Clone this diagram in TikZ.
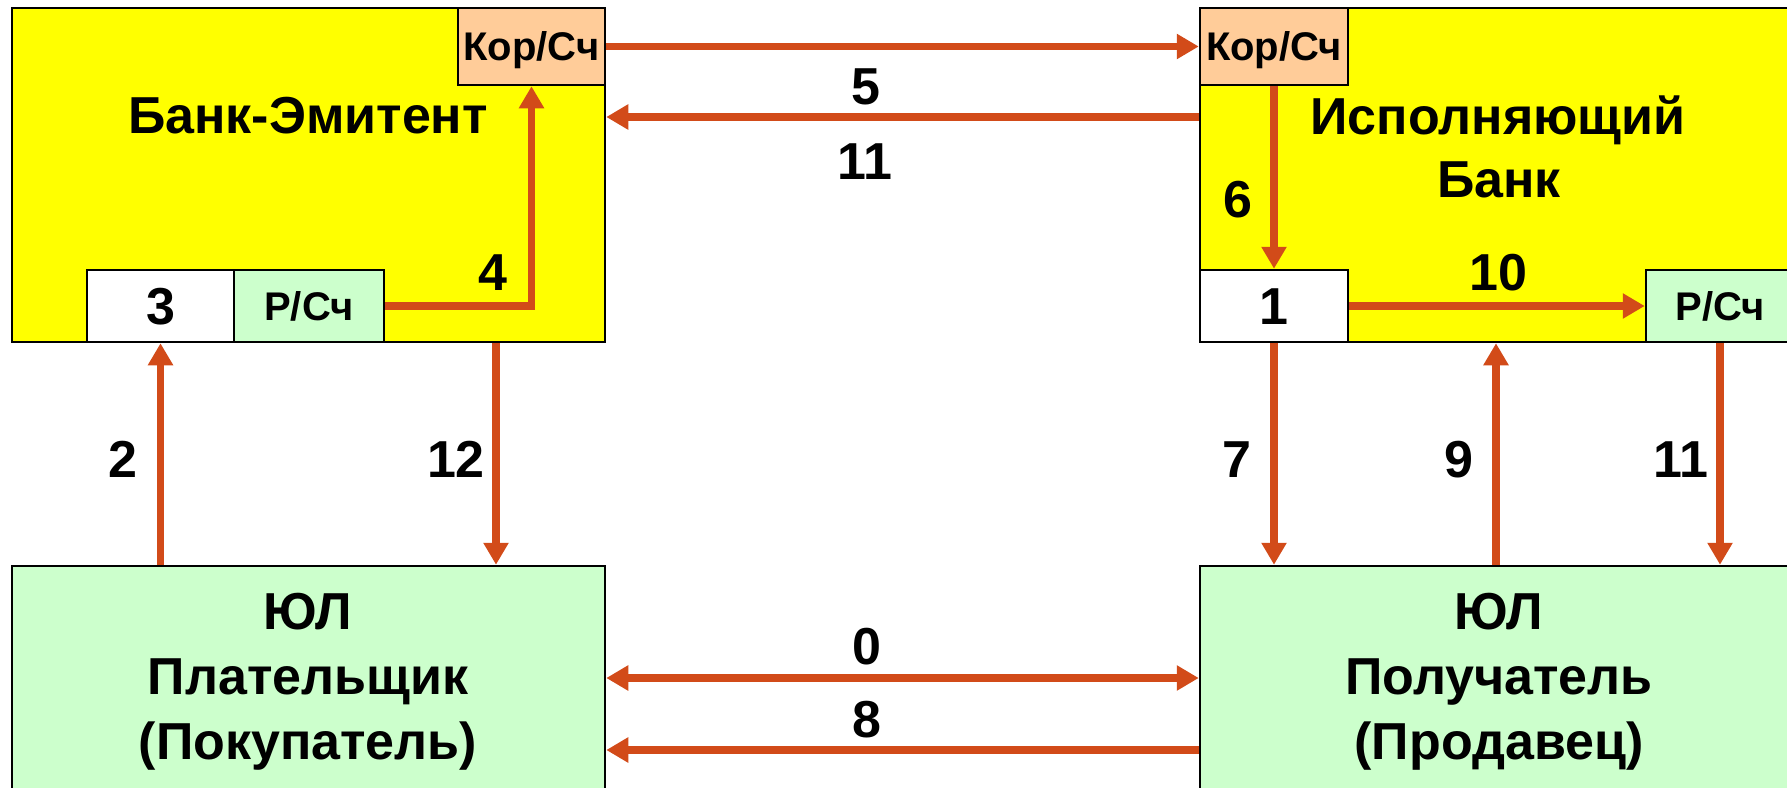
\documentclass[tikz,border=0pt]{standalone}
\usepackage{fontspec}
\setmainfont{Liberation Sans}
\usetikzlibrary{arrows.meta}
\definecolor{arrowc}{RGB}{210,75,25}
\definecolor{bankyellow}{RGB}{255,255,0}
\definecolor{lightgreen}{RGB}{204,255,204}
\definecolor{peach}{RGB}{255,204,153}
\begin{document}
\begin{tikzpicture}[x=1pt,y=-1pt,
  box/.style={draw=black, line width=2.5pt, inner sep=0pt, anchor=center},
  big/.style={font=\fontsize{52}{62}\selectfont\bfseries, text height=37pt, text depth=0pt, inner sep=0pt},
  small/.style={font=\fontsize{40}{48}\selectfont\bfseries, text height=28.6pt, text depth=0pt, inner sep=0pt},
  arr/.style={draw=arrowc, line width=7.5pt, -{Triangle[length=22pt,width=24pt]}},
  darr/.style={draw=arrowc, line width=7.5pt, {Triangle[length=22pt,width=24pt]}-{Triangle[length=22pt,width=24pt]}},
]
\useasboundingbox (0,0) rectangle (1787,787);
\clip (0,0) rectangle (1787,787);
\fill[white] (0,0) rectangle (1787,787);

% banks
\node[box, fill=bankyellow, minimum width=593pt, minimum height=334pt] (bankE) at (308.5,175) {};
\node[box, fill=bankyellow, minimum width=750pt, minimum height=334pt] (bankI) at (1575,175) {};
\node[box, fill=peach, minimum width=147pt, minimum height=77pt, small] (korE) at (531.5,46.5) {Кор/Сч};
\node[box, fill=white, minimum width=147pt, minimum height=72pt, big] (box3) at (160.5,306) {3};
\node[box, fill=lightgreen, minimum width=150pt, minimum height=72pt, small] (rsE) at (309,306) {Р/Сч};
\node[box, fill=peach, minimum width=148pt, minimum height=77pt, small] (korI) at (1274,46.5) {Кор/Сч};
\node[box, fill=white, minimum width=148pt, minimum height=72pt, big] (box1) at (1274,306) {1};
\node[box, fill=lightgreen, minimum width=148pt, minimum height=72pt, small] (rsI) at (1720,306) {Р/Сч};

% legal entities
\node[box, fill=lightgreen, minimum width=593pt, minimum height=334pt] (payer) at (308.5,733) {};
\node[box, fill=lightgreen, minimum width=750pt, minimum height=334pt] (payee) at (1575,733) {};

% titles
\node[big] (tE) at (308,115) {Банк-Эмитент};
\node[big] (tI1) at (1498,116) {Исполняющий};
\node[big] (tI2) at (1499,179) {Банк};
\node[big] (pa1) at (308,611) {ЮЛ};
\node[big] (pa2) at (308,676) {Плательщик};
\node[big] (pa3) at (308,741) {(Покупатель)};
\node[big] (pe1) at (1499,611) {ЮЛ};
\node[big] (pe2) at (1499,676) {Получатель};
\node[big] (pe3) at (1499,741) {(Продавец)};

% connectors
\draw[arr] (korE.east) -- (korI.west);
\draw[arr] (bankI.west |- 0,117) -- (bankE.east |- 0,117);
\draw[arr] (rsE.east) -| (korE.south);
\draw[arr] (korI.south) -- (box1.north);
\draw[arr] (box1.east) -- (rsI.west);
\draw[arr] (box3.south |- payer.north) -- (box3.south);
\draw[arr] (bankE.south -| 496,0) -- (payer.north -| 496,0);
\draw[arr] (box1.south) -- (box1.south |- payee.north);
\draw[arr] (payee.north -| 1496,0) -- (bankI.south -| 1496,0);
\draw[arr] (rsI.south) -- (rsI.south |- payee.north);
\draw[darr] (payer.east |- 0,678) -- (payee.west |- 0,678);
\draw[arr] (payee.west |- 0,750) -- (payer.east |- 0,750);

% labels
\node[big] (l5) at (866,86) {5};
\node[big] (l11a) at (865,161) {11};
\node[big] (l4) at (493,272) {4};
\node[big] (l6) at (1238,199) {6};
\node[big] (l10) at (1498,272) {10};
\node[big] (l2) at (123,459) {2};
\node[big] (l12) at (456,459) {12};
\node[big] (l7) at (1237,459) {7};
\node[big] (l9) at (1459,459) {9};
\node[big] (l11b) at (1681,459) {11};
\node[big] (l0) at (867,646) {0};
\node[big] (l8) at (867,719) {8};
\end{tikzpicture}
\end{document}
